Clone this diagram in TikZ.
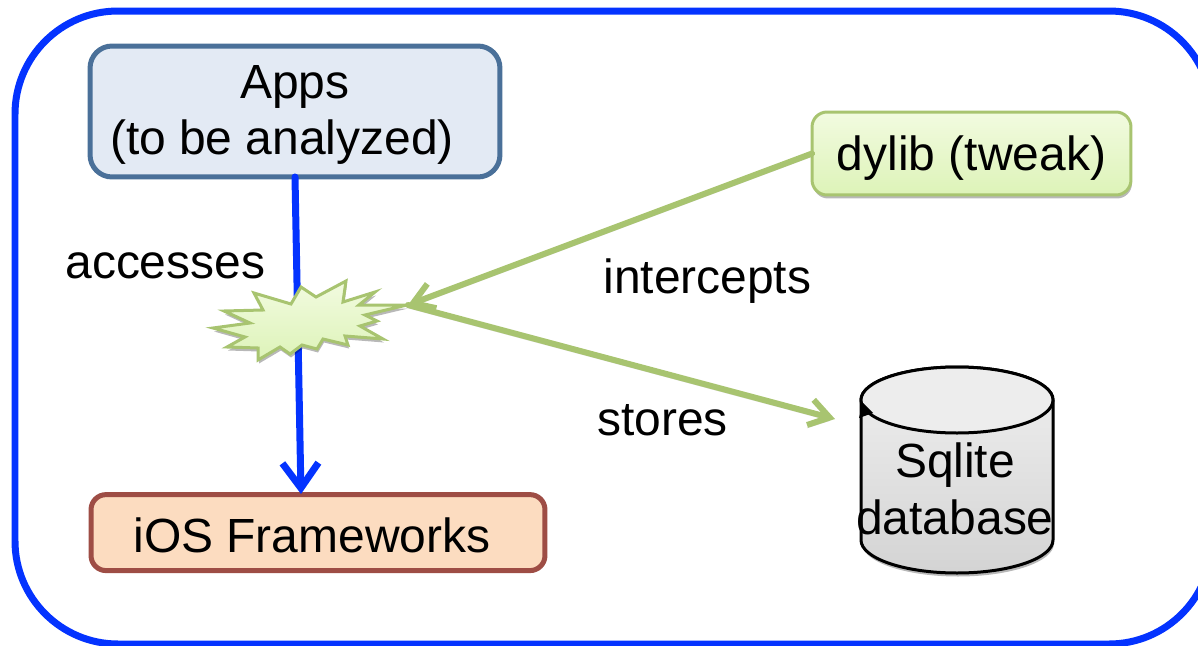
\documentclass[tikz,border=0pt]{standalone}
\usepackage{fontspec}
\setmainfont{Liberation Sans}
\usetikzlibrary{arrows.meta,shadows}
\definecolor{frameblue}{HTML}{0433FF}
\definecolor{appsline}{HTML}{4A7099}
\definecolor{appsfill}{HTML}{E3EAF4}
\definecolor{iosline}{HTML}{9E4D45}
\definecolor{iosfill}{HTML}{FCDCC0}
\definecolor{tweakline}{HTML}{A8C470}
\definecolor{tweaktop}{HTML}{F2FBE0}
\definecolor{tweakbot}{HTML}{DDF3B8}
\newcommand{\lowered}[2]{\raisebox{-#1}[0pt][0pt]{#2}}
\tikzset{
  softshadow/.style={drop shadow={shadow xshift=0.02cm,shadow yshift=-0.07cm,opacity=.28,fill=black}},
  appsbox/.style={draw=appsline,fill=appsfill,line width=0.1cm,rounded corners=0.44cm,
    minimum width=8.2cm,minimum height=2.62cm,inner sep=0,outer sep=0,align=center},
  iosbox/.style={draw=iosline,fill=iosfill,line width=0.1cm,rounded corners=0.3cm,
    minimum width=9.08cm,minimum height=1.52cm,inner sep=0,outer sep=0},
  tweakbox/.style={draw=tweakline,top color=tweaktop,bottom color=tweakbot,line width=0.06cm,
    rounded corners=0.3cm,minimum width=6.38cm,minimum height=1.66cm,inner sep=0,outer sep=0,softshadow},
  greenarrow/.style={draw=tweakline,line width=0.12cm,line cap=round,
    -{Straight Barb[length=0.4cm,width=0.52cm,line width=0.12cm]},
    preaction={draw=black,draw opacity=.12,transform canvas={yshift=-0.06cm}}},
  labeltext/.style={anchor=base west,inner sep=0},
  every node/.style={font=\fontsize{27.3}{32.4}\selectfont}
}
\begin{document}
\begin{tikzpicture}[x=0.02cm,y=-0.02cm]
\useasboundingbox (0,0) rectangle (1198,646);
\draw[frameblue,line width=0.14cm,rounded corners=2.06cm] (15,11) rectangle (1212,644);

\path (295,111.5) node[appsbox] (apps) {\lowered{0.3cm}{Apps}\\\lowered{0.3cm}{(to be analyzed)}\hspace*{0.52cm}};
\path (318,532.6) node[iosbox] (ios) {\lowered{0.39cm}{iOS Frameworks}\hspace*{0.24cm}};
\path (971.5,153.5) node[tweakbox] (dylib) {\lowered{0.35cm}{dylib (tweak)}};
\coordinate (iostop) at (301,494);
\coordinate (tip) at (408,305);
\coordinate (dbtip) at (835,419);

\draw[frameblue,line width=0.14cm,line cap=round,
  -{Straight Barb[length=0.5cm,width=0.72cm,line width=0.14cm]}] (apps.south) -- (iostop);

% burst on top of the blue line
\draw[tweakline,line width=0.06cm,line join=miter,top color=tweaktop,bottom color=tweakbot,softshadow]
  (213,328) -- (250,323) -- (224,311) -- (263,310) -- (254,293) -- (291,304) -- (301,287)
  -- (316,297) -- (346,281) -- (343,302) -- (375,292) -- (359,305) -- (407,305) -- (365,315)
  -- (377,321) -- (360,326) -- (383,339) -- (345,336) -- (348,345) -- (323,339) -- (317,349)
  -- (302,345) -- (290,354) -- (280,347) -- (258,360) -- (258,348) -- (227,347) -- (245,337) -- cycle;

\draw[greenarrow] (dylib.west) -- (tip);
\draw[greenarrow] (tip) -- (dbtip);

% database
\draw[black,line width=0.06cm,top color=black!6,bottom color=black!17,softshadow]
  (861,400) -- (861,540) arc[start angle=180,end angle=360,x radius=96,y radius=-33]
  -- (1053,400) arc[start angle=0,end angle=180,x radius=96,y radius=-33] -- cycle;
\draw[black,line width=0.06cm,fill=black!7] (957,400) ellipse[x radius=96,y radius=33];
\fill[black] (859,418) -- (863,403) -- (873,413) -- cycle;
\path (955,489) node[align=center] (sqlite) {Sqlite\\database};

\path (65,278) node[labeltext] (accesses) {accesses};
\path (603,293) node[labeltext] (intercepts) {intercepts};
\path (597,435) node[labeltext] (stores) {stores};
\end{tikzpicture}
\end{document}
